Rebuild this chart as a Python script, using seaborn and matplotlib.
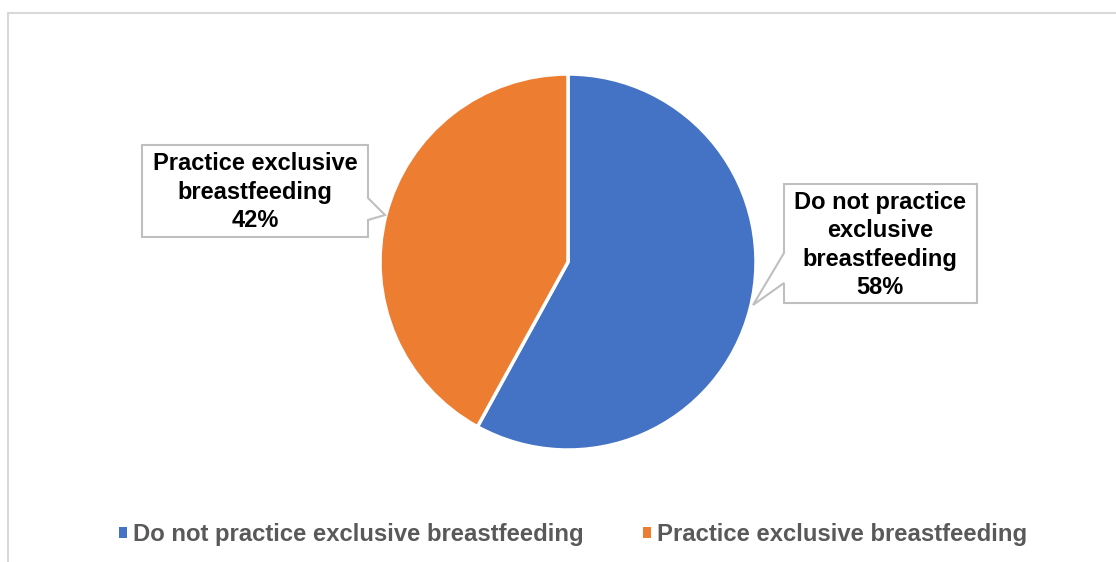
import matplotlib
matplotlib.use("Agg")
import matplotlib.pyplot as plt
import seaborn as sns
from matplotlib.patches import Polygon
from matplotlib.lines import Line2D

sns.set_theme(style="white")
plt.rcParams['font.family'] = ['Liberation Sans', 'DejaVu Sans']

categories = ["Do not practice exclusive breastfeeding", "Practice exclusive breastfeeding"]
values = [58, 42]
callout_text = ["Do not practice\nexclusive\nbreastfeeding", "Practice exclusive\nbreastfeeding"]
colors = ["#4472C4", "#ED7D31"]

W, H = 1116, 562
fig = plt.figure(figsize=(W / 100, H / 100), dpi=100)
ax = fig.add_axes([0, 0, 1, 1])

def py(y):
    return H - y

wedges, _ = ax.pie(values, colors=colors, startangle=90, counterclock=False,
                   center=(568, py(262)), radius=188,
                   wedgeprops=dict(edgecolor="white", linewidth=2.5), frame=True)
ax.set_xlim(0, W)
ax.set_ylim(0, H)
ax.set_aspect("equal")
ax.axis("off")

# chart frame (top and left light gray)
ax.add_line(Line2D([7.5, W], [py(12.5), py(12.5)], color="#d9d9d9", lw=1.5))
ax.add_line(Line2D([7.5, 7.5], [py(12.5), 0], color="#d9d9d9", lw=1.5))

# callouts
box_style = dict(facecolor="white", edgecolor="#bfbfbf", linewidth=1.5, zorder=5)
left_poly = [(142, 145), (368, 145), (368, 198), (385, 215), (368, 220), (368, 237), (142, 237)]
right_poly = [(784, 184), (977, 184), (977, 303), (784, 303), (784, 283), (753, 305), (784, 253)]
ax.add_patch(Polygon([(x, py(y)) for x, y in right_poly], closed=True, **box_style))
ax.add_patch(Polygon([(x, py(y)) for x, y in left_poly], closed=True, **box_style))

ax.text(880, py(245), f"{callout_text[0]}\n{values[0]}%", ha="center", va="center",
        fontsize=17, fontweight="bold", color="black", zorder=6, linespacing=1.31)
ax.text(255, py(192), f"{callout_text[1]}\n{values[1]}%", ha="center", va="center",
        fontsize=17, fontweight="bold", color="black", zorder=6, linespacing=1.31)

leg = fig.legend(wedges, categories, loc="center", bbox_to_anchor=(573 / W, 1 - 535 / H),
                 ncol=2, frameon=False, handlelength=0.33, handleheight=0.33,
                 handletextpad=0.25, columnspacing=2.5,
                 prop=dict(size=17.2, weight="bold"), labelcolor="#595959")
for h in leg.legend_handles:
    h.set_edgecolor("none")

fig.savefig("out.png", dpi=100, facecolor="white")
